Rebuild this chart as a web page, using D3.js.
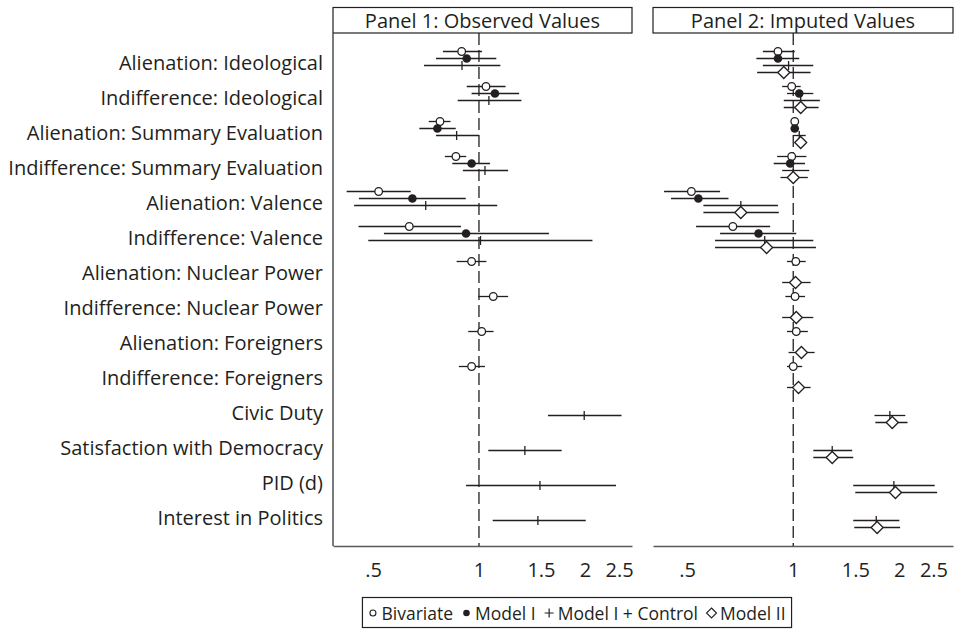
<!DOCTYPE html>
<html><head><meta charset="utf-8">
<script src="https://cdn.jsdelivr.net/npm/d3@7"></script>
<style>body{margin:0;background:#fff}svg{display:block}text{font-family:"Open Sans","Noto Sans",sans-serif;fill:#231f20}</style>
</head><body><svg id="c" width="957" height="636"></svg>
<script>
const categories = ["Alienation: Ideological","Indifference: Ideological","Alienation: Summary Evaluation","Indifference: Summary Evaluation","Alienation: Valence","Indifference: Valence","Alienation: Nuclear Power","Indifference: Nuclear Power","Alienation: Foreigners","Indifference: Foreigners","Civic Duty","Satisfaction with Democracy","PID (d)","Interest in Politics"];
const seriesNames = ["Bivariate","Model I","Model I + Control","Model II"];
const panelTitles = ["Panel 1: Observed Values","Panel 2: Imputed Values"];
const tickValues = [0.5,1,1.5,2,2.5];
const tickLabels = [".5","1","1.5","2","2.5"];
// [estimate, lower, upper] per category; null = not estimated
const p1Bivariate = [[0.893,0.79,1.02],[1.047,0.923,1.19],[0.775,0.72,0.83],[0.86,0.80,0.92],[0.519,0.421,0.64],[0.634,0.455,0.889],[0.953,0.864,1.05],[1.098,0.995,1.21],[1.018,0.932,1.10],[0.953,0.877,1.04],null,null,null,null];
const p1ModelI = [[0.923,0.755,1.12],[1.11,0.953,1.30],[0.762,0.677,0.859],[0.953,0.84,1.075],[0.647,0.456,0.917],[0.919,0.537,1.58],null,null,null,null,null,null,null,null];
const p1ModelIControl = [[0.895,0.698,1.15],[1.067,0.87,1.32],[0.864,0.755,1.0],[1.04,0.90,1.21],[0.706,0.442,1.127],[1.01,0.485,2.10],null,null,null,null,[1.99,1.57,2.54],[1.35,1.063,1.717],[1.49,0.919,2.45],[1.47,1.094,2.01]];
const p1ModelII = [null,null,null,null,null,null,null,null,null,null,null,null,null,null];
const p2Bivariate = [[0.905,0.82,1.01],[0.99,0.93,1.05],[1.01,0.99,1.02],[0.99,0.90,1.09],[0.514,0.43,0.62],[0.674,0.53,0.86],[1.017,0.96,1.085],[1.012,0.95,1.08],[1.02,0.96,1.10],[1.0,0.96,1.06],null,null,null,null];
const p2ModelI = [[0.905,0.786,1.04],[1.04,0.96,1.14],[1.01,0.985,1.03],[0.98,0.88,1.08],[0.538,0.45,0.655],[0.797,0.62,1.02],null,null,null,null,null,null,null,null];
const p2ModelIControl = [[0.97,0.82,1.14],[1.05,0.94,1.19],[1.04,1.0,1.085],[1.0,0.93,1.11],[0.71,0.556,0.905],[0.83,0.60,1.14],null,null,null,null,[1.88,1.70,2.08],[1.29,1.14,1.47],[1.93,1.48,2.52],[1.72,1.48,2.0]];
const p2ModelII = [[0.94,0.79,1.12],[1.05,0.94,1.18],[1.05,1.01,1.085],[1.0,0.92,1.10],[0.71,0.556,0.91],[0.84,0.60,1.16],[1.015,0.93,1.12],[1.02,0.93,1.14],[1.055,0.97,1.15],[1.035,0.96,1.12],[1.91,1.71,2.11],[1.29,1.14,1.48],[1.95,1.50,2.56],[1.73,1.49,2.01]];

const panels = [
  {title: panelTitles[0], x0: 333, x1: 632, domain: [0.385, 2.72], border: true, series: [p1Bivariate,p1ModelI,p1ModelIControl,p1ModelII]},
  {title: panelTitles[1], x0: 653, x1: 953, domain: [0.40, 2.84], border: false, series: [p2Bivariate,p2ModelI,p2ModelIControl,p2ModelII]}
];
const svg = d3.select("#c");
const plotTop = 33, plotBottom = 546;
const fs = "20px";
const y = d3.scaleBand().domain(categories).range([44.5, 534.5]);
const yo = d3.scaleBand().domain(seriesNames).range([-14, 14]);
const ink = "#231f20";

// category labels
svg.append("g").selectAll("text").data(categories).join("text")
  .attr("x", 323).attr("y", d => y(d) + y.bandwidth()/2)
  .attr("text-anchor","end").attr("dominant-baseline","central")
  .style("font-size",fs).text(d => d);

panels.forEach(p => {
  const x = d3.scaleLog().domain(p.domain).range([p.x0, p.x1]);
  const g = svg.append("g");
  g.append("rect").attr("x", p.x0).attr("y", 7.5).attr("width", p.x1 - p.x0).attr("height", 25.5)
    .attr("fill","none").attr("stroke", ink).attr("stroke-width",1.2);
  g.append("text").attr("x",(p.x0+p.x1)/2).attr("y",20.5).attr("text-anchor","middle")
    .attr("dominant-baseline","central").style("font-size",fs).text(p.title);
  if (p.border) g.append("line").attr("x1",p.x0).attr("x2",p.x0).attr("y1",plotTop).attr("y2",plotBottom)
    .attr("stroke","#58595b").attr("stroke-width",1.6);
  const ax = d3.axisBottom(x).tickValues(tickValues).tickFormat((d,i) => tickLabels[i]).tickSize(0).tickPadding(17);
  const axg = g.append("g").attr("transform",`translate(0,${plotBottom})`).call(ax);
  axg.select(".domain").attr("stroke","#58595b").attr("stroke-width",1.6);
  axg.selectAll("text").style("font-size",fs).attr("fill",ink).style("font-family",'"Open Sans","Noto Sans",sans-serif');
  g.append("line").attr("x1",x(1)).attr("x2",x(1)).attr("y1",plotTop).attr("y2",plotBottom)
    .attr("stroke",ink).attr("stroke-width",1.3).attr("stroke-dasharray","12,5");
  p.series.forEach((arr, si) => {
    const name = seriesNames[si];
    const pts = arr.map((v,i) => v ? {c: categories[i], est: v[0], lo: v[1], hi: v[2]} : null).filter(Boolean);
    const sg = g.append("g");
    const yy = d => y(d.c) + y.bandwidth()/2 + yo(name) + yo.bandwidth()/2;
    sg.selectAll("line.ci").data(pts).join("line").attr("class","ci")
      .attr("x1", d => x(d.lo)).attr("x2", d => x(d.hi)).attr("y1", yy).attr("y2", yy)
      .attr("stroke", ink).attr("stroke-width", 1.3);
    if (si === 0) {
      sg.selectAll("circle").data(pts).join("circle").attr("cx", d => x(d.est)).attr("cy", yy).attr("r", 3.8)
        .attr("fill","#fff").attr("stroke", ink).attr("stroke-width",1.3);
    } else if (si === 1) {
      sg.selectAll("circle").data(pts).join("circle").attr("cx", d => x(d.est)).attr("cy", yy).attr("r", 4.3)
        .attr("fill", ink);
    } else if (si === 2) {
      sg.selectAll("line.pm").data(pts).join("line").attr("class","pm")
        .attr("x1", d => x(d.est)).attr("x2", d => x(d.est)).attr("y1", d => yy(d) - 4.5).attr("y2", d => yy(d) + 4.5)
        .attr("stroke", ink).attr("stroke-width", 1.3);
    } else {
      sg.selectAll("path").data(pts).join("path")
        .attr("d", d => { const cx = x(d.est), cy = yy(d), r = 6; return `M${cx},${cy-r}L${cx+r},${cy}L${cx},${cy+r}L${cx-r},${cy}Z`; })
        .attr("fill","#fff").attr("stroke", ink).attr("stroke-width",1.3);
    }
  });
});

// legend: flow layout centred in a box
const lg = svg.append("g");
const ly = 613, lfs = "17.5px", symW = 9, symGap = 4, itemGap = 9;
const items = seriesNames.map((name, i) => {
  const t = lg.append("text").attr("y", ly).attr("dominant-baseline","central").style("font-size", lfs).text(name);
  return {i, t, w: t.node().getComputedTextLength()};
});
const total = d3.sum(items, d => symW + symGap + d.w) + itemGap * (items.length - 1);
const lcx = 577, padX = 6;
let cx = lcx - total / 2;
lg.insert("rect", ":first-child").attr("x", cx - padX).attr("y", 597.5).attr("width", total + 2*padX).attr("height", 30)
  .attr("fill","none").attr("stroke",ink).attr("stroke-width",1.2);
items.forEach(d => {
  const sx = cx + symW/2;
  if (d.i === 0) lg.append("circle").attr("cx",sx).attr("cy",ly).attr("r",3).attr("fill","#fff").attr("stroke",ink).attr("stroke-width",1.1);
  else if (d.i === 1) lg.append("circle").attr("cx",sx).attr("cy",ly).attr("r",3.3).attr("fill",ink);
  else if (d.i === 2) lg.append("path").attr("d",`M${sx-4.5},${ly}H${sx+4.5}M${sx},${ly-4.5}V${ly+4.5}`).attr("stroke",ink).attr("stroke-width",1.2);
  else lg.append("path").attr("d",`M${sx},${ly-5}L${sx+5},${ly}L${sx},${ly+5}L${sx-5},${ly}Z`).attr("fill","none").attr("stroke",ink).attr("stroke-width",1.1);
  d.t.attr("x", cx + symW + symGap);
  cx += symW + symGap + d.w + itemGap;
});
</script></body></html>
